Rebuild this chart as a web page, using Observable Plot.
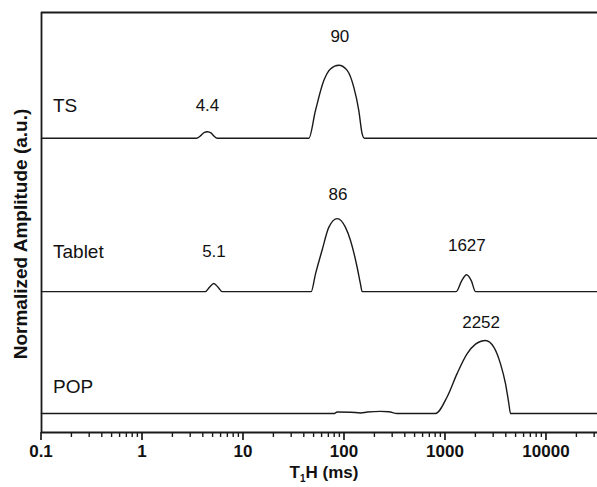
<!DOCTYPE html>
<html>
<head>
<meta charset="utf-8">
<script src="https://cdn.jsdelivr.net/npm/d3@7"></script>
<script src="https://cdn.jsdelivr.net/npm/@observablehq/plot@0.6"></script>
<style>
  html, body { margin: 0; padding: 0; background: #fff; overflow: hidden; }
  #chart { width: 597px; height: 487px; }
</style>
</head>
<body>
<div id="chart"></div>
<script>
// Series names and vertical offsets (baseline, in normalized amplitude units)
const seriesNames = ["TS", "Tablet", "POP"];
const seriesOffsets = [4.03, 1.93, 0.26];

// T1H (ms) and normalized amplitude for each series
const tsT =   [0.1, 3.4, 3.8, 4.1, 4.4, 4.8, 5.1, 5.5, 44.3, 51.6, 62.4, 72.6, 87.8, 106.3, 123.6, 138.6, 149.6, 157.8, 32000];
const tsAmp = [0,   0,   0.04, 0.08, 0.09, 0.07, 0.03, 0, 0,   0.38, 0.79, 0.95, 1.0,  0.93,  0.70,  0.38,  0.06,  0,     0];

const tabletT =   [0.1, 4.2, 4.6, 5.08, 5.6, 6.15, 46.8, 51.6, 60.1, 69.9, 84.7, 102.3, 114.7, 133.6, 143.9, 149.6, 1276, 1450, 1614, 1800, 1982, 32000];
const tabletAmp = [0,   0,   0.06, 0.11, 0.06, 0,  0,    0.24, 0.57, 0.88, 1.0,  0.88,  0.70,  0.33,  0.105, 0,     0,    0.15, 0.23, 0.15, 0,    0];

const popT =   [0.1, 78.4, 84.7, 114.6, 144, 168, 227, 275, 332, 796, 1040, 1306, 1640, 1982, 2250, 2489, 3008, 3506, 3928, 4236, 4403, 32000];
const popAmp = [0,   0,    0.02, 0.018, 0.008, 0.02, 0.03, 0.025, 0, 0, 0.23, 0.55, 0.82, 0.95, 0.99, 1.0, 0.91, 0.68, 0.41, 0.14, 0, 0];

// Peak annotations: value text, and label height (normalized units)
const peakLabels = ["90", "4.4", "86", "5.1", "1627", "2252"];
const peakValues = [90, 4.4, 86, 5.1, 1627, 2252];
const peakLabelY = [5.425, 4.479, 3.26, 2.479, 2.562, 1.507];

// Series name label heights
const nameLabelY = [4.479, 2.479, 0.63];

// Axis ticks
const majorTicks = [0.1, 1, 10, 100, 1000, 10000];
const tickLabels = ["0.1", "1", "10", "100", "1000", "10000"];

const xDomain = [0.1, 32000];
const yTop = 5.753;

const build = (T, A, i) => T.map((t, k) => ({series: seriesNames[i], t, amp: A[k] + seriesOffsets[i]}));
const lineData = [
  ...build(tsT, tsAmp, 0),
  ...build(tabletT, tabletAmp, 1),
  ...build(popT, popAmp, 2)
];
const peakData = peakLabels.map((l, i) => ({label: l, t: peakValues[i], y: peakLabelY[i]}));
const nameData = seriesNames.map((n, i) => ({name: n, t: 0.13, y: nameLabelY[i]}));

const minorTicks = [];
for (let d = -1; d <= 4; d++) {
  for (let m = 2; m <= 9; m++) {
    const v = m * Math.pow(10, d);
    if (v < xDomain[1]) minorTicks.push(v);
  }
}

const FONT = "Arial, 'Liberation Sans', sans-serif";

const chart = Plot.plot({
  width: 597,
  height: 487,
  marginLeft: 41,
  marginRight: 0,
  marginTop: 12,
  marginBottom: 55,
  style: {fontFamily: FONT, background: "#fff", overflow: "visible"},
  x: {type: "log", domain: xDomain, axis: null},
  y: {type: "linear", domain: [0, yTop], axis: null},
  marks: [
    Plot.ruleY([yTop], {stroke: "#1a1a1a", strokeWidth: 1.8}),
    Plot.ruleX([xDomain[0]], {stroke: "#1a1a1a", strokeWidth: 1.8, y1: 0, y2: yTop}),
    Plot.ruleY([0], {stroke: "#1a1a1a", strokeWidth: 1.8}),
    Plot.line(lineData, {x: "t", y: "amp", z: "series", stroke: "#1a1a1a", strokeWidth: 1.4, curve: "monotone-x"}),
    Plot.text(peakData, {x: "t", y: "y", text: "label", fontSize: 17, fill: "#111"}),
    Plot.text(nameData, {x: "t", y: "y", text: "name", fontSize: 19, textAnchor: "start", fill: "#111"})
  ]
});

// Outward ticks and tick labels positioned through the x scale
const xs = chart.scale("x");
const svg = d3.select(chart);
const axisY = 487 - 55;
const g = svg.append("g").attr("stroke", "#1a1a1a");
majorTicks.forEach(v => {
  const px = xs.apply(v);
  g.append("line").attr("x1", px).attr("x2", px).attr("y1", axisY).attr("y2", axisY + 8).attr("stroke-width", 1.7);
});
minorTicks.forEach(v => {
  const px = xs.apply(v);
  g.append("line").attr("x1", px).attr("x2", px).attr("y1", axisY).attr("y2", axisY + 5).attr("stroke-width", 1.4);
});
const tl = svg.append("g").attr("font-family", FONT).attr("font-weight", "bold").attr("font-size", 17).attr("fill", "#111").attr("text-anchor", "middle");
majorTicks.forEach((v, i) => {
  tl.append("text").attr("x", xs.apply(v)).attr("y", axisY + 20).attr("dy", "0.32em").text(tickLabels[i]);
});
// x axis title with subscript
const xt = svg.append("text").attr("x", 324).attr("y", 478).attr("text-anchor", "middle")
  .attr("font-family", FONT).attr("font-weight", "bold").attr("font-size", 17).attr("fill", "#111");
xt.append("tspan").text("T");
xt.append("tspan").attr("font-size", 10).attr("dy", 4).text("1");
xt.append("tspan").attr("dy", -4).text("H (ms)");
// y axis title
svg.append("text").attr("transform", "translate(27,234) rotate(-90)").attr("text-anchor", "middle")
  .attr("font-family", FONT).attr("font-weight", "bold").attr("font-size", 19).attr("fill", "#111")
  .text("Normalized Amplitude (a.u.)");

document.getElementById("chart").appendChild(chart);
</script>
</body>
</html>
